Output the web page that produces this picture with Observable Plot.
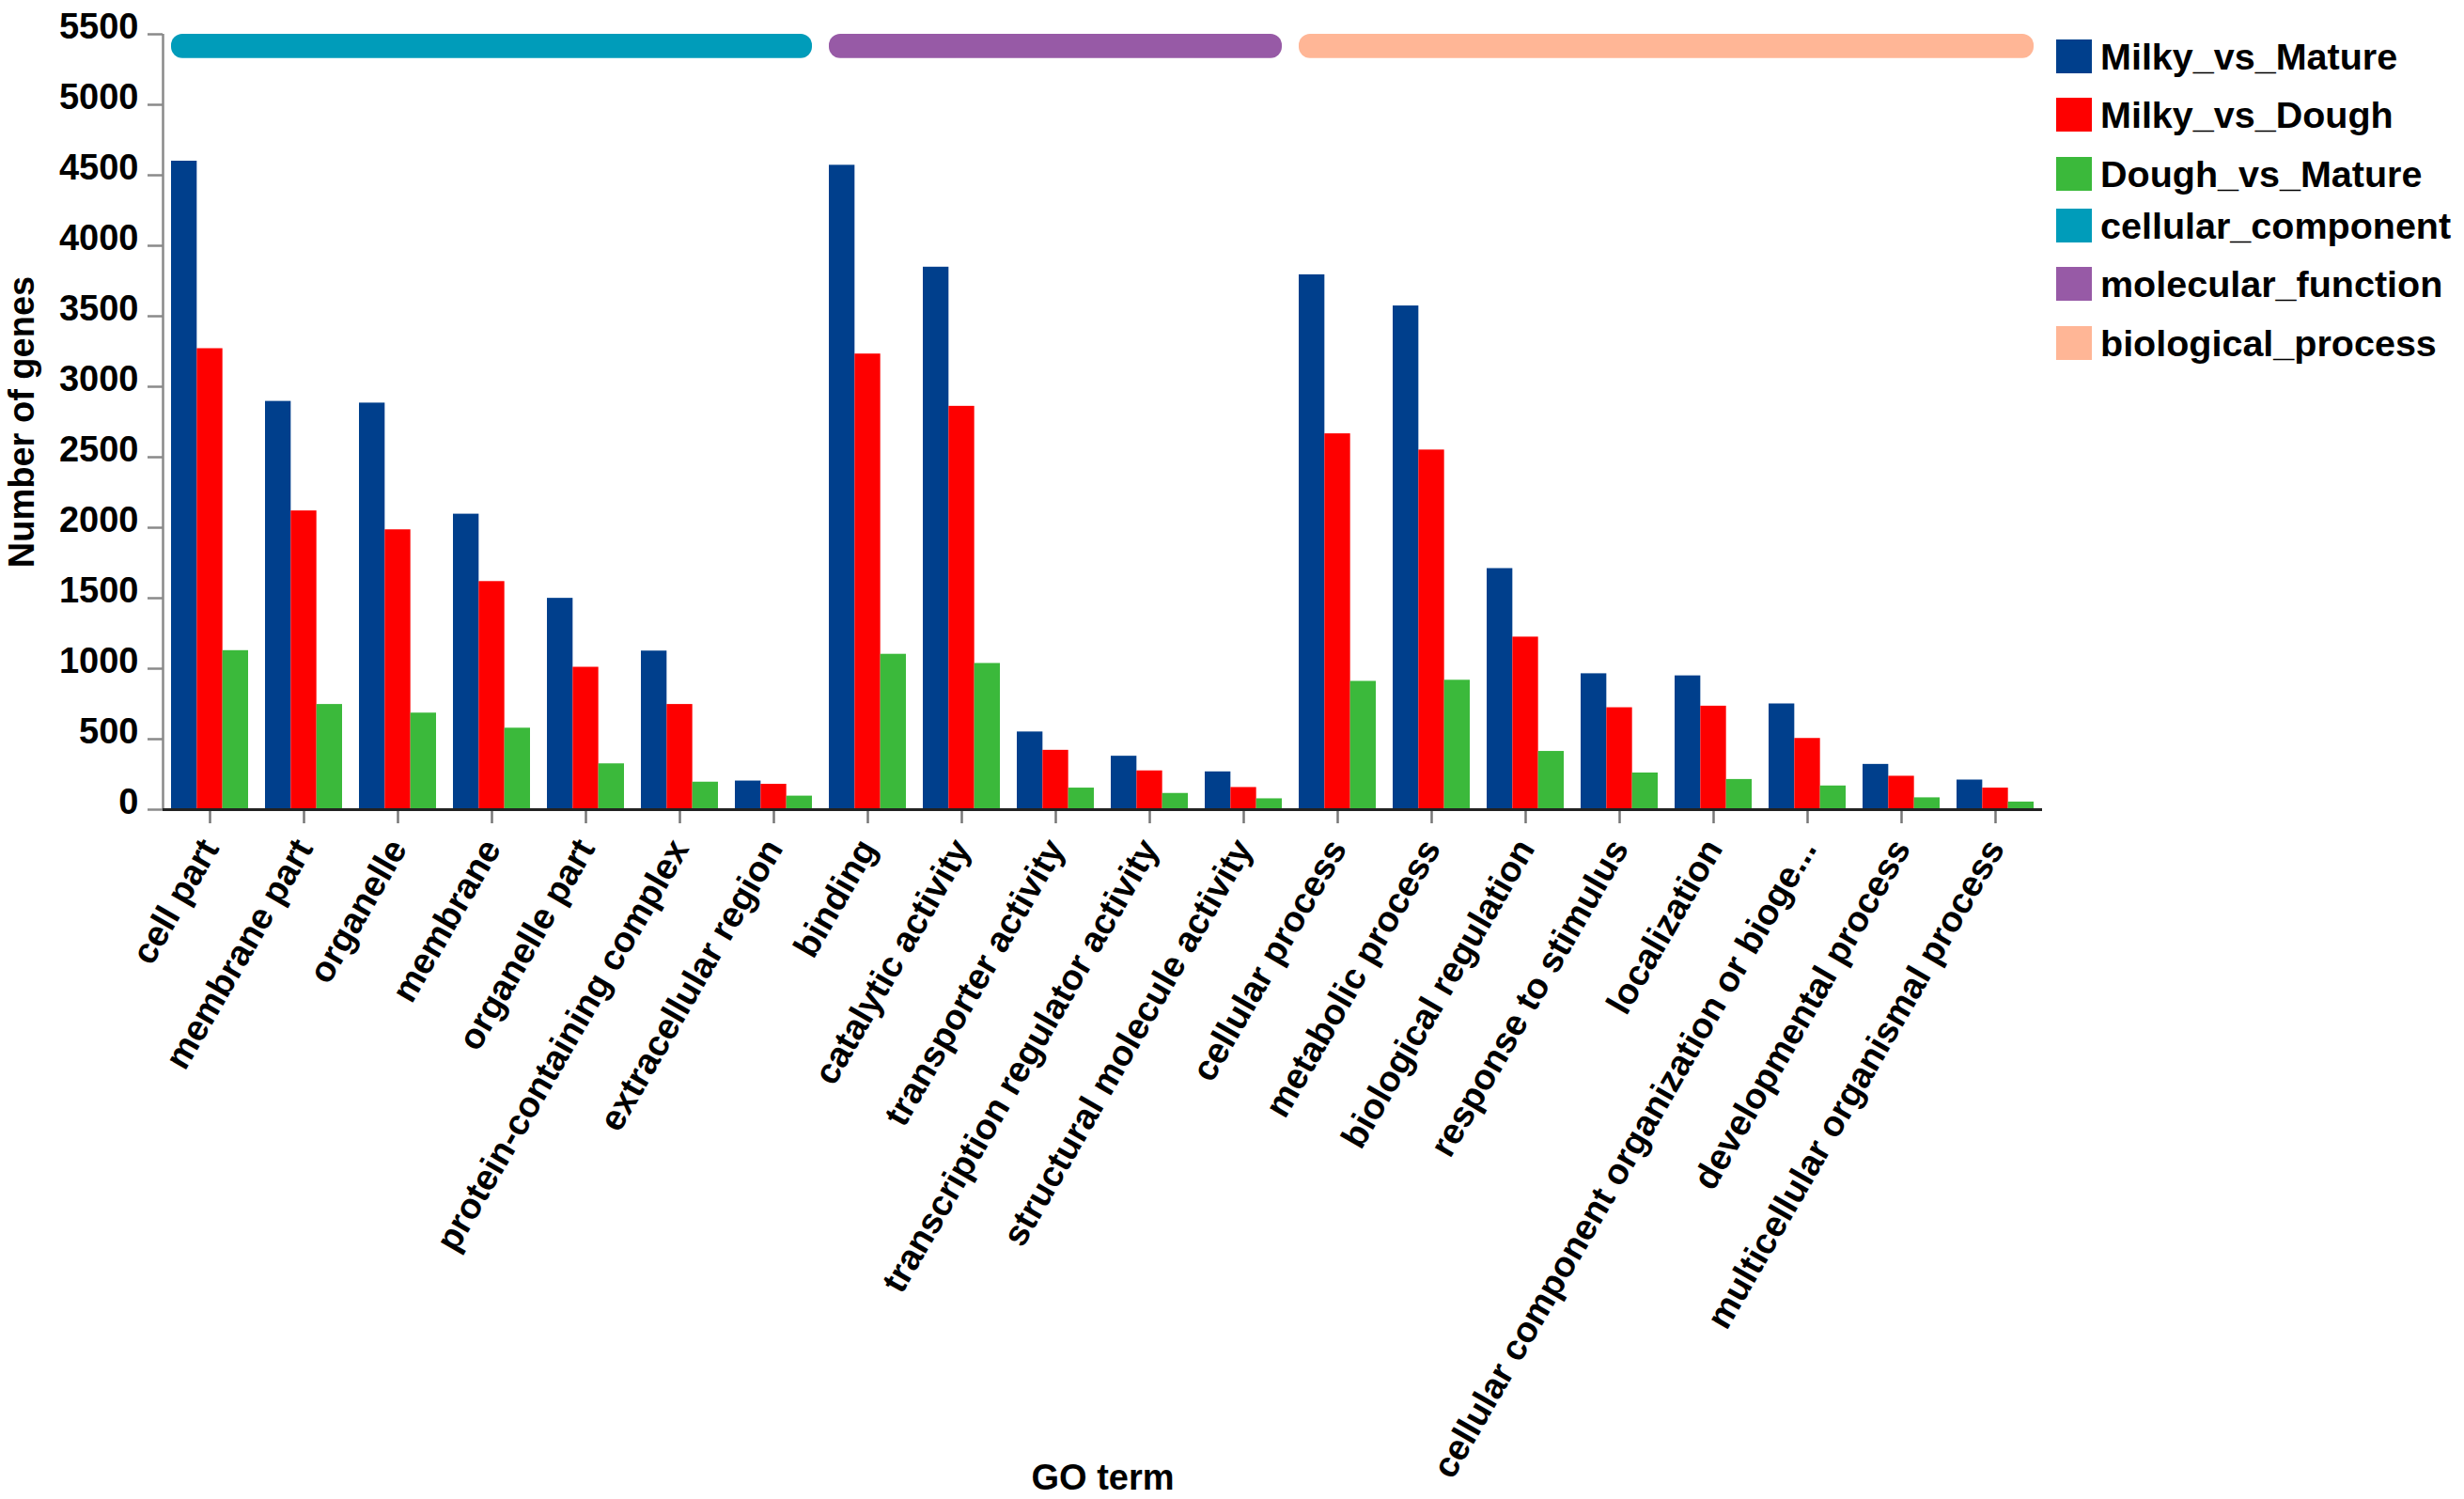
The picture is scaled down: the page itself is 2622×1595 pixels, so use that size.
<!DOCTYPE html>
<html>
<head>
<meta charset="utf-8">
<script src="https://cdn.jsdelivr.net/npm/d3@7"></script>
<script src="https://cdn.jsdelivr.net/npm/@observablehq/plot@0.6"></script>
<style>
  html, body { margin: 0; padding: 0; background: #fff; }
  #wrap { position: relative; width: 2622px; height: 1595px; overflow: hidden; }
  #wrap svg { display: block; }
  #legend { position: absolute; left: 2188px; top: 0; font-family: "Liberation Sans", Arial, sans-serif; font-weight: bold; font-size: 39.5px; color: #000; }
  #legend .row { position: absolute; left: 0; display: flex; align-items: center; height: 50px; white-space: nowrap; }
  #legend .sw { width: 38px; height: 36px; margin-right: 9px; flex: none; }
</style>
</head>
<body>
<div id="wrap"><div id="legend"></div></div>
<script>
// ---- data ----
const terms = [
  "cell part", "membrane part", "organelle", "membrane", "organelle part",
  "protein-containing complex", "extracellular region",
  "binding", "catalytic activity", "transporter activity",
  "transcription regulator activity", "structural molecule activity",
  "cellular process", "metabolic process", "biological regulation",
  "response to stimulus", "localization",
  "cellular component organization or bioge...", "developmental process",
  "multicellular organismal process"
];
const termDomain = [0,0,0,0,0,0,0, 1,1,1,1,1, 2,2,2,2,2,2,2,2];
const domains = ["cellular_component", "molecular_function", "biological_process"];
const seriesNames = ["Milky_vs_Mature", "Milky_vs_Dough", "Dough_vs_Mature"];
const milkyVsMature = [4600, 2896, 2884, 2096, 1499, 1125, 203, 4571, 3848, 551, 379, 268, 3794, 3573, 1710, 964, 949, 750, 321, 210];
const milkyVsDough  = [3270, 2119, 1985, 1618, 1010, 746, 180, 3232, 2861, 421, 275, 157, 2666, 2551, 1224, 723, 734, 505, 237, 153];
const doughVsMature = [1128, 746, 685, 578, 325, 195, 96, 1102, 1037, 153, 115, 77, 910, 918, 413, 260, 214, 168, 84, 54];
const yTicks = [0, 500, 1000, 1500, 2000, 2500, 3000, 3500, 4000, 4500, 5000, 5500];

// ---- styles ----
const legendNames = [...seriesNames, ...domains];
const legendColors = ["#003f8c", "#fe0000", "#3bb93b", "#009cba", "#975aa6", "#ffb696"];
const legendRowCenters = [60, 122, 185, 240, 302, 365];
const FONT = "'Liberation Sans', Arial, sans-serif";
const half = 0.41;
const bw = (2 * half) / 3;

// ---- derived tables ----
const seriesValues = [milkyVsMature, milkyVsDough, doughVsMature];
const rows = [];
seriesValues.forEach((vals, k) => vals.forEach((v, i) => rows.push({i, k, series: seriesNames[k], value: v})));
const spans = domains.map((name, g) => {
  const idx = termDomain.map((d, i) => d === g ? i : -1).filter(i => i >= 0);
  return {name, lo: d3.min(idx), hi: d3.max(idx)};
});

const chart = Plot.plot({
  width: 2622,
  height: 1595,
  marginLeft: 173,
  marginRight: 449,
  marginTop: 36,
  marginBottom: 734,
  style: {fontFamily: FONT, background: "#fff", color: "#000"},
  x: {type: "linear", domain: [-0.5, 19.5], axis: null},
  y: {domain: [0, 5500], axis: null},
  color: {domain: legendNames, range: legendColors},
  marks: [
    // category bands on top
    Plot.rect(spans, {
      x1: d => d.lo - half, x2: d => d.hi + half,
      y1: () => 5328, y2: () => 5500,
      fill: "name", rx: 12, ry: 12
    }),
    // bars
    Plot.rectY(rows, {
      x1: d => d.i - half + d.k * bw,
      x2: d => d.i - half + (d.k + 1) * bw,
      y1: () => 0, y2: "value",
      fill: "series"
    }),
    // y axis line
    Plot.ruleX([-0.5], {y1: 0, y2: 5500, stroke: "#8a8a8a", strokeWidth: 2.5}),
    // y ticks
    Plot.axisY({ticks: yTicks, tickSize: 16, tickFormat: () => "", stroke: "#8a8a8a", strokeWidth: 2.5, label: null}),
    // y labels
    Plot.axisY({ticks: yTicks, tickSize: 0, tickPadding: 26, dy: -8, tickFormat: d => String(d),
      fontSize: 38, fontWeight: "bold", fill: "#000", label: null}),
    // x axis ticks
    Plot.axisX({ticks: d3.range(terms.length), tickSize: 15, tickFormat: () => "", stroke: "#777", strokeWidth: 2.5, label: null}),
    // x labels
    Plot.axisX({ticks: d3.range(terms.length), tickSize: 0, tickPadding: 35, tickRotate: -60,
      tickFormat: i => terms[i], fontSize: 38, fontWeight: "bold", fill: "#000", label: null}),
    // x axis line
    Plot.ruleY([0], {x1: -0.5, x2: 19.5, stroke: "#222", strokeWidth: 3}),
    // axis titles
    Plot.text(["Number of genes"], {frameAnchor: "left", textAnchor: "middle", dx: -150, rotate: -90,
      fontSize: 38, fontWeight: "bold", fill: "#000"}),
    Plot.text(["GO term"], {frameAnchor: "bottom", dy: 723, fontSize: 38, fontWeight: "bold", fill: "#000"})
  ]
});

const wrap = document.getElementById("wrap");
wrap.insertBefore(chart, wrap.firstChild);

const legend = document.getElementById("legend");
legendNames.forEach((name, j) => {
  const row = document.createElement("div");
  row.className = "row";
  row.style.top = (legendRowCenters[j] - 25) + "px";
  const sw = document.createElement("span");
  sw.className = "sw";
  sw.style.background = legendColors[j];
  const t = document.createElement("span");
  t.textContent = name;
  row.appendChild(sw);
  row.appendChild(t);
  legend.appendChild(row);
});
</script>
</body>
</html>
